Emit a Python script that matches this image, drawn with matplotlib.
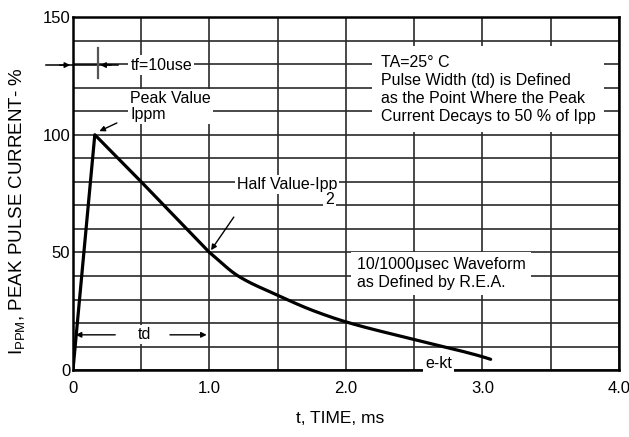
import matplotlib
matplotlib.use("Agg")
import matplotlib.pyplot as plt
import numpy as np

# Data
time_ms = [0.0, 0.16, 0.5, 1.0, 1.21, 1.5, 1.75, 2.0, 2.5, 3.0, 3.06]
current_pct = [0.0, 100.0, 80.0, 50.0, 40.0, 31.8, 25.5, 20.5, 13.0, 5.7, 4.6]

x_ticks = [0, 1.0, 2.0, 3.0, 4.0]
x_tick_labels = ["0", "1.0", "2.0", "3.0", "4.0"]
y_ticks = [0, 50, 100, 150]
y_tick_labels = ["0", "50", "100", "150"]

plt.rcParams['font.family'] = ['Liberation Sans', 'DejaVu Sans']


def pchip(x, y, xs):
    x = np.asarray(x, float)
    y = np.asarray(y, float)
    h = np.diff(x)
    delta = np.diff(y) / h
    d = np.zeros_like(y)
    d[0] = delta[0]
    d[-1] = delta[-1]
    for k in range(1, len(x) - 1):
        if delta[k - 1] * delta[k] <= 0:
            d[k] = 0.0
        else:
            w1 = 2 * h[k] + h[k - 1]
            w2 = h[k] + 2 * h[k - 1]
            d[k] = (w1 + w2) / (w1 / delta[k - 1] + w2 / delta[k])
    idx = np.clip(np.searchsorted(x, xs) - 1, 0, len(x) - 2)
    t = (xs - x[idx]) / h[idx]
    h00 = 2 * t**3 - 3 * t**2 + 1
    h10 = t**3 - 2 * t**2 + t
    h01 = -2 * t**3 + 3 * t**2
    h11 = t**3 - t**2
    return (h00 * y[idx] + h10 * h[idx] * d[idx] + h01 * y[idx + 1]
            + h11 * h[idx] * d[idx + 1])


fig = plt.figure(figsize=(6.29, 4.37), dpi=100)
ax = fig.add_axes([0.116, 0.153, 0.868, 0.808])

# rise and straight first decay segment, then smooth exponential-like tail
split = 3
xs_tail = np.linspace(time_ms[split], time_ms[-1], 200)
ys_tail = pchip(time_ms[split:], current_pct[split:], xs_tail)
xs = np.concatenate([time_ms[:split], xs_tail])
ys = np.concatenate([current_pct[:split], ys_tail])
ax.plot(xs, ys, color='black', lw=2.3, solid_capstyle='round',
        solid_joinstyle='round', zorder=5)

ax.set_xlim(0, 4.0)
ax.set_ylim(0, 150)
ax.set_xticks(x_ticks)
ax.set_xticklabels(x_tick_labels)
ax.set_yticks(y_ticks)
ax.set_yticklabels(y_tick_labels)
ax.set_xticks(np.arange(0, 4.01, 0.5), minor=True)
ax.set_yticks(np.arange(0, 151, 10), minor=True)
ax.grid(which='both', color='#2a2a2a', lw=1.2)
ax.set_axisbelow(True)
ax.tick_params(which='both', length=0, labelsize=12)
ax.tick_params(axis='x', pad=8)
ax.tick_params(axis='y', pad=2)
for s in ax.spines.values():
    s.set_linewidth(1.8)
    s.set_color('black')

ax.set_xlabel("t, TIME, ms", fontsize=12.5)
ax.xaxis.set_label_coords(0.49, -0.115)
ax.set_ylabel(r"I$_{\mathregular{PPM}}$, PEAK PULSE CURRENT- %", fontsize=13.5)
ax.yaxis.set_label_coords(-0.082, 0.45)

fs = 11.5
bb = dict(facecolor='white', edgecolor='none', pad=1.5)

# tf annotation
ax.text(0.42, 129.6, "tf=10use", fontsize=fs, va='center', ha='left', bbox=bb)
ax.plot([-0.2, 0.33], [129.6, 129.6], color='black', lw=1.1, clip_on=False, zorder=6)
ax.annotate("", xy=(0.0, 129.6), xytext=(-0.12, 129.6), annotation_clip=False,
            arrowprops=dict(arrowstyle='-|>', color='black', lw=1.0, mutation_scale=8))
ax.annotate("", xy=(0.18, 129.6), xytext=(0.30, 129.6), annotation_clip=False,
            arrowprops=dict(arrowstyle='-|>', color='black', lw=1.0, mutation_scale=8))
ax.plot([0.18, 0.18], [124, 137], color='#555555', lw=1.6, zorder=6)

# Peak value
ax.text(0.42, 112, "Peak Value\nIppm", fontsize=fs, va='center', ha='left',
        linespacing=1.15, bbox=bb)
ax.annotate("", xy=(0.175, 101), xytext=(0.34, 105.5),
            arrowprops=dict(arrowstyle='-|>', color='black', lw=1.0, mutation_scale=8))

# Half value
ax.text(1.20, 79, "Half Value-Ipp", fontsize=fs, va='center', ha='left', bbox=bb)
ax.text(1.88, 72.5, "2", fontsize=fs, va='center', ha='center', bbox=bb)
ax.annotate("", xy=(1.0, 50), xytext=(1.19, 66),
            arrowprops=dict(arrowstyle='-|>', color='black', lw=1.0, mutation_scale=8))

# Box text
ax.text(2.255, 134, "TA=25° C\nPulse Width (td) is Defined\nas the Point Where the Peak\nCurrent Decays to 50 % of Ipp",
        fontsize=fs, va='top', ha='left', linespacing=1.25,
        bbox=dict(facecolor='white', edgecolor='none', pad=6))

ax.text(2.08, 48, "10/1000μsec Waveform\nas Defined by R.E.A.", fontsize=fs,
        va='top', ha='left', linespacing=1.2,
        bbox=dict(facecolor='white', edgecolor='none', pad=4))

ax.text(2.68, 3.0, "e-kt", fontsize=fs, va='center', ha='center', bbox=bb, zorder=4)

# td annotation
ax.text(0.525, 15, "td", fontsize=fs, va='center', ha='center', bbox=bb)
ax.annotate("", xy=(0.0, 15), xytext=(0.33, 15),
            arrowprops=dict(arrowstyle='-|>', color='black', lw=1.0, mutation_scale=8))
ax.annotate("", xy=(1.0, 15), xytext=(0.69, 15),
            arrowprops=dict(arrowstyle='-|>', color='black', lw=1.0, mutation_scale=8))

fig.savefig("out.png", dpi=100)
